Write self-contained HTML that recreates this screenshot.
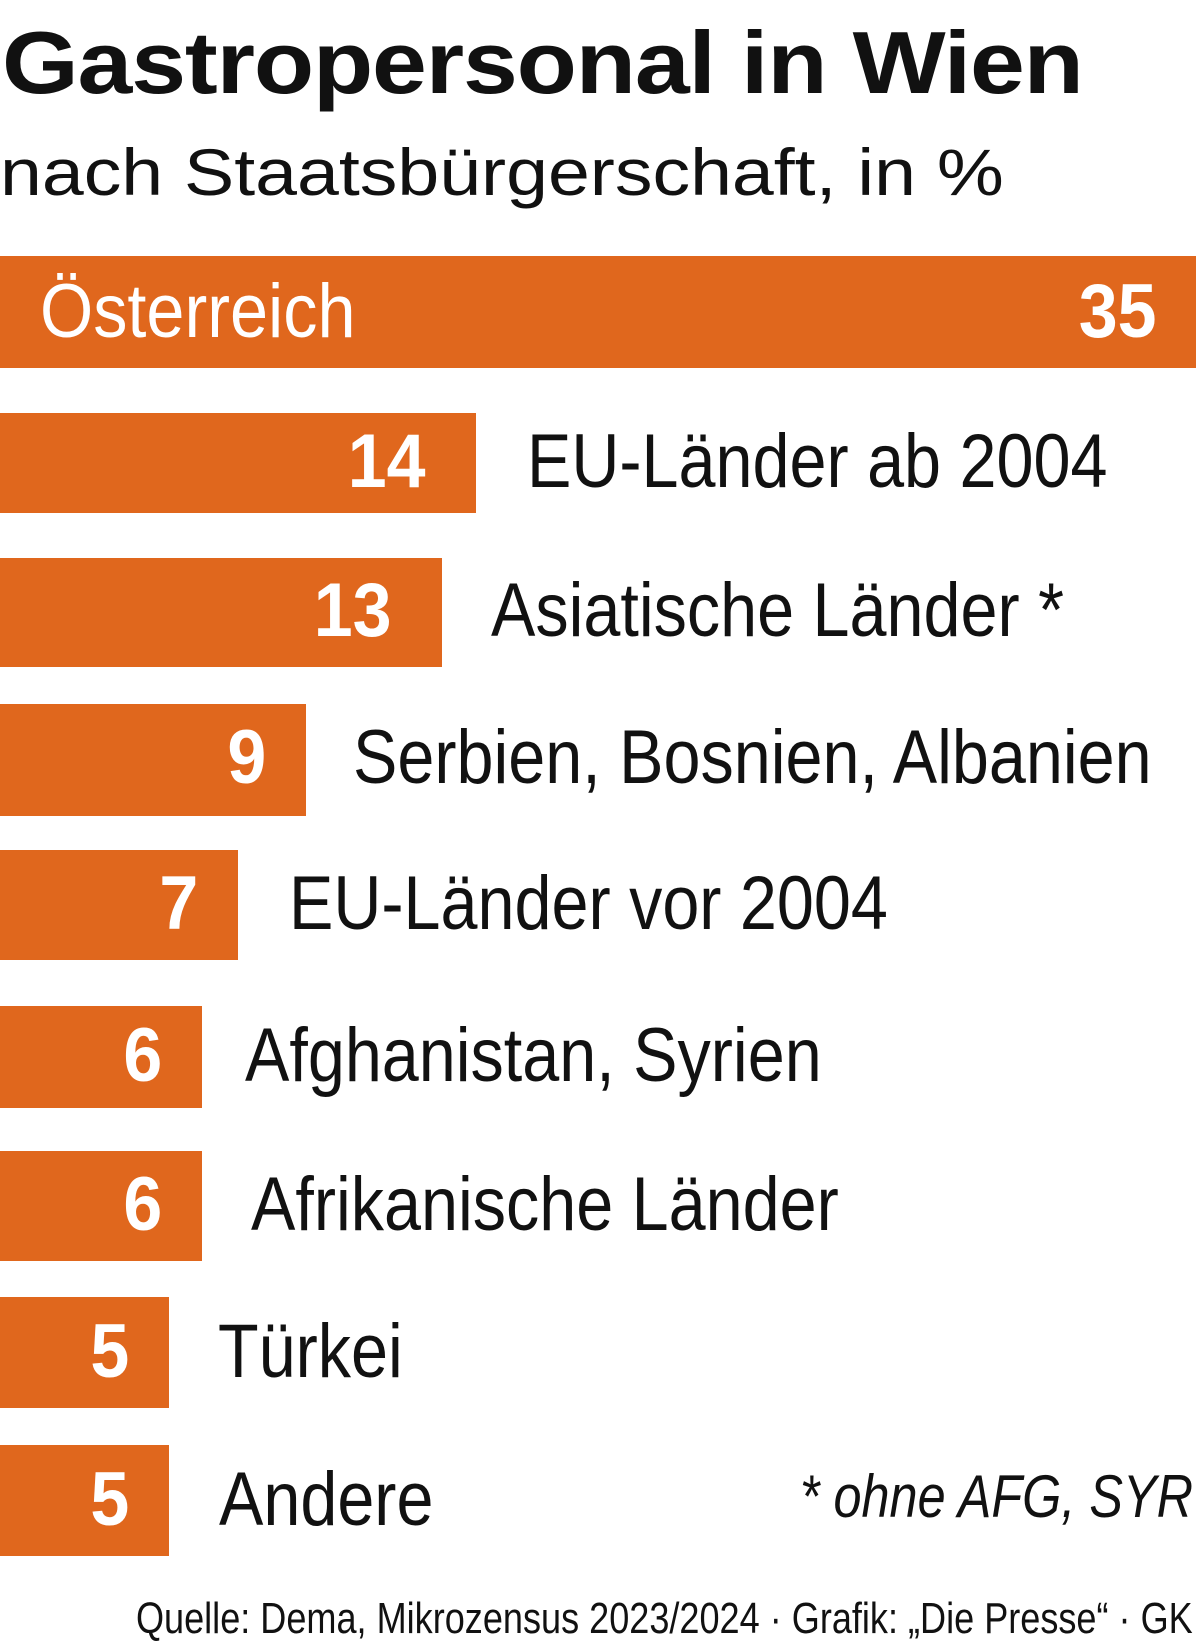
<!DOCTYPE html>
<html><head><meta charset="utf-8"><style>
body{margin:0;width:1200px;height:1642px;background:#fff;position:relative;overflow:hidden;font-family:"Liberation Sans",sans-serif;color:#111}
.t{position:absolute;left:2px;top:12px;font-size:88px;font-weight:bold;letter-spacing:-1px;white-space:nowrap;transform:scaleX(1.12);transform-origin:left}
.s{position:absolute;left:0;top:134px;font-size:66px;white-space:nowrap;transform:scaleX(1.14);transform-origin:left}
.bar{position:absolute;left:0;background:#e0671d}
.n{position:absolute;font-weight:bold;color:#fff;font-size:76px;text-align:right;white-space:nowrap;transform:scaleX(0.92);transform-origin:right}
.l{position:absolute;font-size:76px;white-space:nowrap;transform:scaleX(0.875);transform-origin:left}
.f{position:absolute;right:7px;top:1594px;font-size:44px;white-space:nowrap;transform:scaleX(0.82);transform-origin:right}
</style></head><body>
<div class="t">Gastropersonal in Wien</div>
<div class="s">nach Staatsbürgerschaft, in %</div>

<div class="bar" style="top:256px;height:112px;width:1196px"></div>
<div class="l" style="left:40px;top:268px;color:#fff;transform:scaleX(0.9)">Österreich</div>
<div class="n" style="right:43px;top:268px">35</div>

<div class="bar" style="top:413px;height:100px;width:476px"></div>
<div class="n" style="right:774px;top:418px">14</div>
<div class="l" style="left:527px;top:418px">EU-Länder ab 2004</div>

<div class="bar" style="top:558px;height:109px;width:442px"></div>
<div class="n" style="right:808px;top:567px">13</div>
<div class="l" style="left:491px;top:567px">Asiatische Länder *</div>

<div class="bar" style="top:704px;height:112px;width:306px"></div>
<div class="n" style="right:934px;top:714px">9</div>
<div class="l" style="left:353px;top:714px">Serbien, Bosnien, Albanien</div>

<div class="bar" style="top:850px;height:110px;width:238px"></div>
<div class="n" style="right:1002px;top:860px">7</div>
<div class="l" style="left:289px;top:860px">EU-Länder vor 2004</div>

<div class="bar" style="top:1006px;height:102px;width:202px"></div>
<div class="n" style="right:1038px;top:1012px">6</div>
<div class="l" style="left:245px;top:1012px">Afghanistan, Syrien</div>

<div class="bar" style="top:1151px;height:110px;width:202px"></div>
<div class="n" style="right:1038px;top:1161px">6</div>
<div class="l" style="left:251px;top:1161px">Afrikanische Länder</div>

<div class="bar" style="top:1297px;height:111px;width:169px"></div>
<div class="n" style="right:1071px;top:1308px">5</div>
<div class="l" style="left:218px;top:1308px">Türkei</div>

<div class="bar" style="top:1445px;height:111px;width:169px"></div>
<div class="n" style="right:1071px;top:1456px">5</div>
<div class="l" style="left:219px;top:1456px">Andere</div>
<div class="l" style="right:7px;top:1462px;font-style:italic;font-size:60px;transform-origin:right;transform:scaleX(0.84)">* ohne AFG, SYR</div>

<div class="f">Quelle: Dema, Mikrozensus 2023/2024 · Grafik: „Die Presse“ · GK</div>
</body></html>
